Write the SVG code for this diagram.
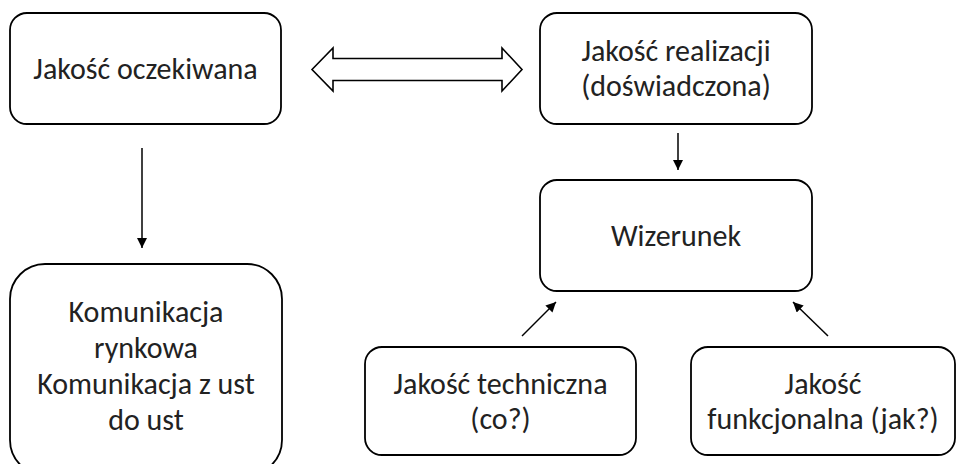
<svg xmlns="http://www.w3.org/2000/svg" width="958" height="464" viewBox="0 0 958 464">
<defs>
<style>
.box{fill:#fff;stroke:#000;stroke-width:1.8}
.t{font-family:Carlito,Lato,"Open Sans",sans-serif;font-size:30px;fill:#222;text-anchor:middle}
.c{stroke:#000;stroke-width:1.5;fill:none}
</style>
<marker id="ah" viewBox="0 0 10 10" refX="10" refY="5" markerWidth="11" markerHeight="10" markerUnits="userSpaceOnUse" orient="auto">
<path d="M0,0 L10,5 L0,10 Z" fill="#000"/>
</marker>
</defs>
<rect width="958" height="464" fill="#fff"/>
<g id="n1">
<rect class="box" x="10" y="13" width="271" height="111" rx="17"/>
<text class="t" x="145.5" y="79">Jakość oczekiwana</text>
</g>
<g id="n2">
<rect class="box" x="540" y="13" width="272" height="111" rx="17"/>
<text class="t" x="676" y="61">Jakość realizacji</text>
<text class="t" x="676" y="96">(doświadczona)</text>
</g>
<g id="n3">
<rect class="box" x="540" y="180" width="272" height="111" rx="17"/>
<text class="t" x="676" y="246">Wizerunek</text>
</g>
<g id="n4">
<rect class="box" x="10" y="264" width="272" height="211" rx="35"/>
<text class="t" x="146" y="322">Komunikacja</text>
<text class="t" x="146" y="358">rynkowa</text>
<text class="t" x="146" y="394">Komunikacja z ust</text>
<text class="t" x="146" y="430">do ust</text>
</g>
<g id="n5">
<rect class="box" x="365" y="347" width="271" height="108" rx="17"/>
<text class="t" x="500.5" y="394">Jakość techniczna</text>
<text class="t" x="500.5" y="429">(co?)</text>
</g>
<g id="n6">
<rect class="box" x="691" y="347" width="264" height="108" rx="17"/>
<text class="t" x="823" y="394">Jakość</text>
<text class="t" x="823" y="429">funkcjonalna (jak?)</text>
</g>
<g id="connectors">
<polygon points="312,69.5 333,48 333,58.5 502,58.5 502,48 522,69.5 502,91 502,80.5 333,80.5 333,91" fill="#fff" stroke="#000" stroke-width="1.6" stroke-linejoin="miter"/>
<line class="c" x1="142" y1="148" x2="142" y2="248" marker-end="url(#ah)"/>
<line class="c" x1="678" y1="133" x2="678" y2="170" marker-end="url(#ah)"/>
<line class="c" x1="522" y1="336" x2="556" y2="302" marker-end="url(#ah)"/>
<line class="c" x1="828" y1="336" x2="793" y2="302" marker-end="url(#ah)"/>
</g>
</svg>
